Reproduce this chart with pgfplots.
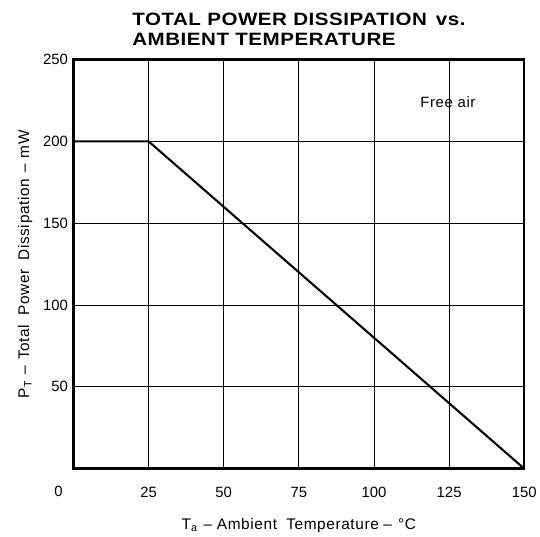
\documentclass[border=0pt]{standalone}
\usepackage{pgfplots}
\pgfplotsset{compat=1.18}
\usepackage{fontspec}
\setmainfont{Liberation Sans}
\newfontfamily\spaced[LetterSpace=4]{Liberation Sans}
\newfontfamily\titlefont[FakeStretch=1.15, LetterSpace=3]{Liberation Sans Bold}
\begin{document}
\begin{tikzpicture}
\begin{axis}[
 scale only axis, width=454pt, height=412pt,
 xmin=0, xmax=150, ymin=0, ymax=250,
 xtick={25,50,75,100,125,150}, ytick={50,100,150,200,250},
 grid=major, grid style={black, line width=0.8pt},
 axis line style={line width=2.4pt},
 tick style={draw=none},
 /pgf/number format/assume math mode=true,
 ticklabel style={font=\fontsize{15}{17}\selectfont},
 xticklabel style={yshift=-15pt},
 yticklabel style={xshift=-2pt},
 extra x ticks={0},
 extra x tick style={grid=none, xticklabel style={xshift=-15pt, yshift=1pt}},
 xlabel={T\textsubscript{a}\hspace{0.4em}–\hspace{0.3em}Ambient\hspace{0.6em}Temperature\hspace{0.3em}–\hspace{0.4em}\textdegree C},
 ylabel={P\textsubscript{T}\hspace{0.4em}–\hspace{0.4em}Total\hspace{0.6em}Power\hspace{0.6em}Dissipation\hspace{0.4em}–\hspace{0.4em}mW},
 xlabel style={font=\spaced\fontsize{15.5}{17}\selectfont, yshift=-14pt},
 ylabel style={font=\spaced\fontsize{15.5}{17}\selectfont, yshift=4pt},
 clip=false,
]
\addplot[black, line width=2.1pt] coordinates {(0,200) (25,200) (150,0)};
\node[font=\spaced\fontsize{15}{17}\selectfont] at (axis cs:124.6,224) {Free air};
\node[anchor=south west, align=left, font=\titlefont\fontsize{18}{20}\selectfont, inner sep=0pt] at ([yshift=14pt]rel axis cs:0.13,1) {TOTAL POWER DISSIPATION\hspace{0.5em}vs.\\AMBIENT TEMPERATURE};
\end{axis}
\path ([xshift=-74pt,yshift=-68pt]current axis.south west) rectangle ([xshift=8pt,yshift=60pt]current axis.north east);
\end{tikzpicture}
\end{document}
